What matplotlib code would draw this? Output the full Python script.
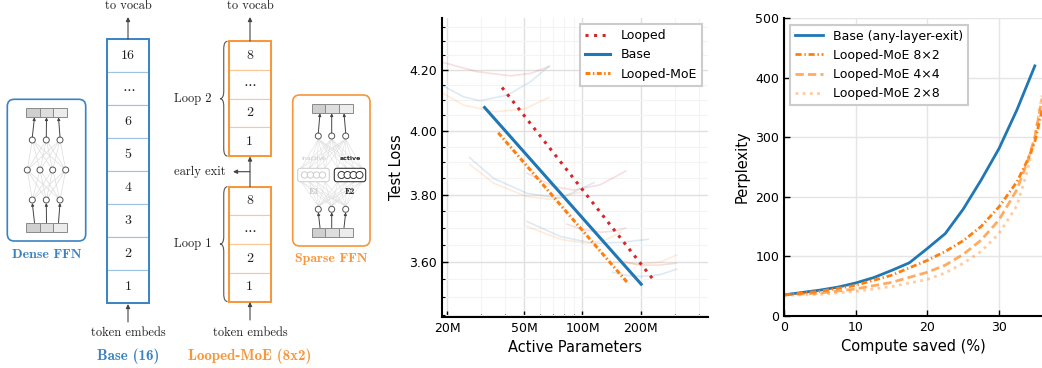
import matplotlib
matplotlib.use("Agg")
import matplotlib.pyplot as plt
from matplotlib.patches import Rectangle, FancyBboxPatch, Circle, PathPatch
from matplotlib.path import Path
from matplotlib.ticker import NullFormatter

plt.rcParams["mathtext.fontset"] = "cm"

BLUE = "#1f77b4"
ORANGE = "#ff7f0e"
RED = "#d62728"
DIAG_BLUE = "#3a83c3"
DIAG_ORANGE = "#f7963a"

# ---------------- scaling panel (x in millions of active params) ----------------
looped_x = [38.4, 236.0]
looped_y = [4.142, 3.544]
base_x = [31.2, 201.0]
base_y = [4.076, 3.536]
moe_x = [36.7, 171.0]
moe_y = [3.994, 3.540]

# faint isoFLOP curves, one list per model family
iso_base = [
    ([19.1, 24.3, 29.6, 41.0, 53.8, 67.2], [4.147, 4.111, 4.098, 4.117, 4.161, 4.214]),
    ([26.1, 34.8, 51.7, 77.0, 114.6], [3.915, 3.850, 3.804, 3.789, 3.837]),
    ([51.7, 77.0, 114.6, 158.4, 218.5], [3.719, 3.674, 3.654, 3.657, 3.666]),
    ([142.7, 170.0, 200.0, 250.0, 307.0], [3.570, 3.561, 3.558, 3.563, 3.579]),
]
iso_looped = [
    ([19.1, 28.5, 42.4, 53.8, 67.2], [4.226, 4.195, 4.181, 4.189, 4.212]),
    ([51.7, 70.9, 89.7, 123.3, 167.3], [3.866, 3.825, 3.814, 3.830, 3.873]),
    ([83.0, 100.0, 125.0, 145.0, 167.0], [3.711, 3.695, 3.687, 3.690, 3.699]),
    ([163.0, 200.0, 250.0, 305.0], [3.601, 3.590, 3.591, 3.596]),
]
iso_moe = [
    ([19.1, 24.3, 34.8, 49.7, 67.2], [4.122, 4.084, 4.062, 4.070, 4.109]),
    ([26.1, 34.8, 51.7, 68.6, 97.4], [3.894, 3.835, 3.794, 3.786, 3.808]),
    ([51.7, 77.0, 105.5, 131.5, 158.4], [3.704, 3.666, 3.654, 3.664, 3.688]),
    ([145.0, 200.0, 254.0, 307.0], [3.600, 3.593, 3.600, 3.620]),
]

# ---------------- early-exit panel ----------------
saved = [0, 2.5, 5, 7.5, 10, 12.5, 15, 17.5, 20, 22.5, 25, 27.5, 30, 32.5, 35]
ppl_base = [35, 39, 43, 48, 55, 64, 76, 89, 113, 138, 179, 228, 281, 346, 420]
saved_moe = [0, 5, 10, 15, 20, 22.5, 25, 27.5, 30, 32.5, 34, 35, 36]
ppl_8x2 = [35, 41, 51, 68, 93, 108, 126, 150, 183, 225, 262, 292, 345]
ppl_4x4 = [35, 38, 45, 56, 73, 85, 103, 127, 161, 212, 260, 300, 365]
ppl_2x8 = [34, 36, 41, 49, 61, 72, 88, 108, 138, 185, 245, 300, 370]

base_layers = ["16", r"$\cdots$", "6", "5", "4", "3", "2", "1"]
loop_layers = ["8", r"$\cdots$", "2", "1"]

fig = plt.figure(figsize=(10.42, 3.68), dpi=100)

# ================= diagram (pixel coordinates) =================
ax_d = fig.add_axes([0, 0, 380 / 1042, 1])
ax_d.set_xlim(0, 380)
ax_d.set_ylim(368, 0)
ax_d.axis("off")


def serif(x, y, s, size=9, bold=False, color="#222222", ha="center"):
    ax_d.text(x, y, s, fontsize=size, family="cmb10" if bold else "cmr10",
              color=color, ha=ha, va="center")


def arrow(x0, y0, x1, y1, color="#444444", lw=0.8, ms=6):
    ax_d.annotate("", xy=(x1, y1), xytext=(x0, y0),
                  arrowprops=dict(arrowstyle="-|>", color=color, lw=lw,
                                  mutation_scale=ms, shrinkA=0, shrinkB=0))


def column(x0, top, h, labels, edge, inner):
    w = 42
    for i, lab in enumerate(labels):
        ax_d.add_patch(Rectangle((x0, top + i * h), w, h, fc="white", ec=inner, lw=0.8))
        serif(x0 + w / 2, top + i * h + h / 2, lab, size=10)
    ax_d.add_patch(Rectangle((x0, top), w, h * len(labels), fill=False, ec=edge, lw=1.4))


def brace(x, y0, y1, d=7.5):
    ym = (y0 + y1) / 2
    verts = [(x, y0), (x - d / 2, y0), (x - d / 2, y0 + d),
             (x - d / 2, ym - d), (x - d / 2, ym), (x - d, ym),
             (x - d / 2, ym), (x - d / 2, ym + d),
             (x - d / 2, y1 - d), (x - d / 2, y1), (x, y1)]
    codes = [Path.MOVETO, Path.CURVE3, Path.CURVE3, Path.LINETO, Path.CURVE3, Path.CURVE3,
             Path.CURVE3, Path.CURVE3, Path.LINETO, Path.CURVE3, Path.CURVE3]
    ax_d.add_patch(PathPatch(Path(verts, codes), fill=False, ec="#555555", lw=0.8))


def bar(x0, y0, w=41, h=9):
    for i, c in enumerate(["#cfcfcf", "#dedede", "#ececec"]):
        ax_d.add_patch(Rectangle((x0 + i * w / 3, y0), w / 3, h, fc=c, ec="#8a8a8a", lw=0.7))


def node(x, y, r=3, ec="#555555"):
    ax_d.add_patch(Circle((x, y), r, fc="white", ec=ec, lw=0.7, zorder=3))


# base column
column(107.3, 39.3, 33, base_layers, DIAG_BLUE, "#9cc3e4")
serif(128, 6, "to vocab")
arrow(128, 39, 128, 17)
arrow(128, 322, 128, 304)
serif(128, 333, "token embeds")
serif(128, 356, "Base (16)", size=10.8, bold=True, color=DIAG_BLUE)

# looped-MoE column
for top, name in [(41.3, "Loop 2"), (186.7, "Loop 1")]:
    column(228.7, top, 28.7, loop_layers, DIAG_ORANGE, "#fbc696")
    brace(227.5, top, top + 4 * 28.7)
    serif(212, top + 2 * 28.7, name, ha="right")
serif(250, 6, "to vocab")
arrow(250, 41, 250, 17)
arrow(250, 186.7, 250, 156.5)
arrow(250, 171.7, 233, 171.7)
serif(226, 171.7, "early exit", ha="right")
arrow(250, 320, 250, 302)
serif(250, 333, "token embeds")
serif(250, 356, "Looped-MoE (8x2)", size=10.8, bold=True, color=DIAG_ORANGE)

# dense FFN
ax_d.add_patch(FancyBboxPatch((7.3, 99.3), 78.4, 141.7, boxstyle="round,pad=0,rounding_size=7",
                              fc="white", ec=DIAG_BLUE, lw=1.2))
dense_rows = [[32.3, 46.3, 60.0], [27.3, 40.0, 52.7, 65.7], [32.3, 46.3, 60.0]]
dense_y = [140, 170, 200]
for r in range(2):
    for xa in dense_rows[r]:
        for xb in dense_rows[r + 1]:
            ax_d.plot([xa, xb], [dense_y[r], dense_y[r + 1]], color="#dcdcdc", lw=0.5)
for xs, y in zip(dense_rows, dense_y):
    for x in xs:
        node(x, y)
bar(26, 108.3)
bar(26, 222.7)
for xc, xb in zip(dense_rows[0], [34.5, 46.5, 58.5]):
    arrow(xc, 137, xb, 117.3, ms=4, lw=0.7)
    arrow(xb, 222.7, xc, 203, ms=4, lw=0.7)
serif(46.5, 255, "Dense FFN", size=10, bold=True, color=DIAG_BLUE)

# sparse FFN
ax_d.add_patch(FancyBboxPatch((292.7, 95), 77.3, 151, boxstyle="round,pad=0,rounding_size=7",
                              fc="white", ec=DIAG_ORANGE, lw=1.2))
sp_x = [318.3, 331.7, 345.7]
fan = [301, 309, 317, 325, 338, 346, 354, 362]
for x in sp_x:
    for xf in fan:
        ax_d.plot([x, xf], [139, 168.3], color="#dedede", lw=0.4)
        ax_d.plot([xf, x], [181.7, 206.3], color="#dedede", lw=0.4)
ax_d.add_patch(FancyBboxPatch((297.7, 168.3), 31.6, 13.4, boxstyle="round,pad=0,rounding_size=2.5",
                              fc="white", ec="#d0d0d0", lw=0.8, zorder=2))
ax_d.add_patch(FancyBboxPatch((334.3, 168.3), 31.4, 13.4, boxstyle="round,pad=0,rounding_size=2.5",
                              fc="white", ec="#333333", lw=0.8, zorder=2))
for x in [304.5, 310.5, 316.5, 322.5]:
    node(x, 175, r=3.2, ec="#cccccc")
for x in [341.5, 347.5, 353.5, 359.5]:
    node(x, 175, r=3.5, ec="#333333")
for x in sp_x:
    node(x, 136)
    node(x, 209.3)
bar(311.7, 104)
bar(311.7, 227.7)
for xc, xb in zip(sp_x, [320, 331.7, 344]):
    arrow(xc, 133, xb, 113.3, ms=4, lw=0.7)
    arrow(xb, 227.7, xc, 212.3, ms=4, lw=0.7)
ax_d.text(313.5, 158.3, "inactive", fontsize=4.5, color="#c8c8c8", ha="center", va="center")
ax_d.text(350, 158.3, "active", fontsize=4.5, fontweight="bold", color="#222222", ha="center", va="center")
serif(313.5, 192.3, "E1", size=6.5, bold=True, color="#c8c8c8")
serif(350, 192.3, "E2", size=6.5, bold=True)
serif(331.5, 259, "Sparse FFN", size=10, bold=True, color=DIAG_ORANGE)

# ================= test loss vs active params =================
ax = fig.add_axes([442 / 1042, 51 / 368, 266 / 1042, 299 / 368])
for curves, col in [(iso_looped, RED), (iso_base, BLUE), (iso_moe, ORANGE)]:
    for xs, ys in curves:
        ax.plot(xs, ys, color=col, alpha=0.15, lw=1.2)
ax.plot(looped_x, looped_y, color=RED, ls=(0, (1, 1.8)), lw=2.2, label="Looped")
ax.plot(base_x, base_y, color=BLUE, lw=2.2, label="Base")
ax.plot(moe_x, moe_y, color=ORANGE, ls=(0, (1.6, 0.8, 0.5, 0.8)), lw=2.2, label="Looped-MoE")
ax.set_xscale("log")
ax.set_yscale("log")
ax.set_xlim(18.8, 445)
ax.set_ylim(3.444, 4.38)
ax.set_xticks([20, 50, 100, 200], ["20M", "50M", "100M", "200M"])
ax.set_xticks([30, 40, 60, 70, 80, 90, 300, 400], minor=True)
ax.xaxis.set_minor_formatter(NullFormatter())
ax.set_yticks([3.6, 3.8, 4.0, 4.2], ["3.60", "3.80", "4.00", "4.20"])
ax.set_yticks([3.45, 3.5, 3.55, 3.65, 3.7, 3.75, 3.85, 3.9, 3.95,
               4.05, 4.1, 4.15, 4.25, 4.3, 4.35], minor=True)
ax.yaxis.set_minor_formatter(NullFormatter())
ax.set_axisbelow(True)
ax.grid(which="major", color="#e0e0e0", lw=1)
ax.grid(which="minor", color="#f3f3f3", lw=0.8)
ax.set_xlabel("Active Parameters", fontsize=10.5)
ax.set_ylabel("Test Loss", fontsize=10.5)
ax.legend(loc="upper right", fontsize=9, fancybox=False, framealpha=1,
          edgecolor="#cccccc", handlelength=2.0).get_frame().set_linewidth(1.5)

# ================= perplexity vs compute saved =================
ax2 = fig.add_axes([784 / 1042, 52.3 / 368, 258 / 1042, 297.4 / 368])
ax2.plot(saved, ppl_base, color=BLUE, lw=2, label="Base (any-layer-exit)")
ax2.plot(saved_moe, ppl_8x2, color=ORANGE, ls=(0, (2.2, 1, 0.5, 1)), lw=2, label="Looped-MoE 8\u00d72")
ax2.plot(saved_moe, ppl_4x4, color=ORANGE, alpha=0.65, ls=(0, (3, 1.5)), lw=2, label="Looped-MoE 4\u00d74")
ax2.plot(saved_moe, ppl_2x8, color=ORANGE, alpha=0.4, ls=(0, (1, 1.6)), lw=2, label="Looped-MoE 2\u00d78")
ax2.set_xlim(0, 36)
ax2.set_ylim(0, 500)
ax2.set_xticks([0, 10, 20, 30])
ax2.set_yticks([0, 100, 200, 300, 400, 500])
ax2.set_axisbelow(True)
ax2.grid(color="#e5e5e5", lw=1)
ax2.set_xlabel("Compute saved (%)", fontsize=10.5)
ax2.set_ylabel("Perplexity", fontsize=10.5)
ax2.legend(loc="upper left", fontsize=9, fancybox=False, framealpha=1,
           edgecolor="#cccccc", handlelength=2.2).get_frame().set_linewidth(1.5)

for a in (ax, ax2):
    for s in ("top", "right"):
        a.spines[s].set_visible(False)
    for s in ("left", "bottom"):
        a.spines[s].set_linewidth(1.5)
    a.tick_params(which="both", direction="in", labelsize=9, top=False, right=False)
    a.tick_params(which="major", length=4, width=1)
    a.tick_params(which="minor", length=2.5, width=0.8)

fig.savefig("out.png", dpi=100)
